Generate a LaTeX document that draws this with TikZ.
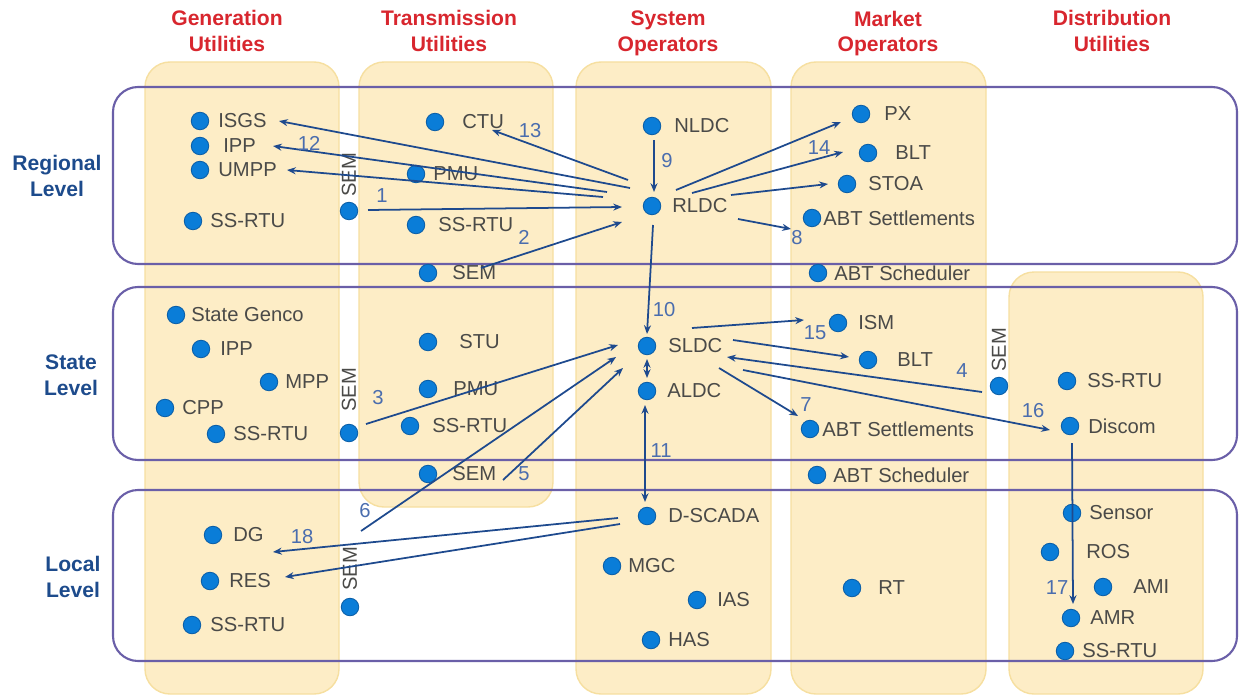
\documentclass[tikz,border=0pt]{standalone}
\usepackage{fontspec}
\setmainfont{Liberation Sans}
\usetikzlibrary{arrows.meta,calc}

\definecolor{colfill}{HTML}{FDEDC6}
\definecolor{coledge}{HTML}{F6DFA0}
\definecolor{lvlline}{HTML}{6A5FA8}
\definecolor{hdred}{HTML}{D8262E}
\definecolor{lvlblue}{HTML}{1D4B8C}
\definecolor{dotblue}{HTML}{0A7DD8}
\definecolor{dotedge}{HTML}{0B5FA8}
\definecolor{txtgray}{HTML}{4A4A48}
\definecolor{arrblue}{HTML}{1E4A8E}
\definecolor{numblue}{HTML}{4A6DAE}

\tikzset{
  colbox/.style={fill=colfill, draw=coledge, line width=0.8pt, rounded corners=0.5cm},
  lvlbox/.style={draw=lvlline, line width=1.2pt, rounded corners=0.5cm},
  hdr/.style={text=hdred, font=\bfseries\fontsize{12}{14.7}\selectfont, align=center},
  lvl/.style={text=lvlblue, font=\bfseries\fontsize{12}{14.7}\selectfont, align=center},
  dot/.style={circle, fill=dotblue, draw=dotedge, line width=0.5pt, inner sep=0, minimum size=0.35cm},
  lbl/.style={anchor=west, inner sep=0, text=txtgray, font=\fontsize{11.5}{13}\selectfont},
  vlbl/.style={inner sep=0, rotate=90, text=txtgray, font=\fontsize{11.5}{13}\selectfont},
  num/.style={inner sep=0, text=numblue, font=\fontsize{11.5}{13}\selectfont},
  arr/.style={draw=arrblue, line width=1pt, -{Stealth[length=5pt,width=4pt]}},
  darr/.style={arr, {Stealth[length=5pt,width=4pt]}-{Stealth[length=5pt,width=4pt]}},
}

% dot with its name to the right
\newcommand{\elem}[4]{%
  \node[dot] (#1) at (#2) {};
  \node[lbl] (#1-t) at ($(#1)+(#3,0)$) {#4};}
% dot with a vertical SEM above it
\newcommand{\vsem}[3]{%
  \node[dot] (#1) at (#2) {};
  \node[vlbl] (#1-t) at ($(#1)+(0,#3)$) {SEM};}

\begin{document}
\begin{tikzpicture}[x=0.02cm, y=-0.02cm]
  \useasboundingbox (0,0) rectangle (1239,696);

  % columns
  \draw[colbox] (145,62) rectangle (339,694);
  \draw[colbox] (359,62) rectangle (553,507);
  \draw[colbox] (576,62) rectangle (771,694);
  \draw[colbox] (791,62) rectangle (986,694);
  \draw[colbox] (1009,272) rectangle (1203,694);

  % levels
  \draw[lvlbox] (113,87) rectangle (1237,264);
  \draw[lvlbox] (113,287) rectangle (1237,460);
  \draw[lvlbox] (113,490) rectangle (1237,661);

  % headings
  \node[hdr] (h-gen) at (227,31) {Generation\\Utilities};
  \node[hdr] (h-tra) at (449,31) {Transmission\\Utilities};
  \node[hdr] (h-sys) at (668,33.5) {System\\Operators};
  \node[hdr] (h-mkt) at (888,33.5) {Market\\Operators};
  \node[hdr] (h-dis) at (1112,31) {Distribution\\Utilities};

  \node[lvl] (l-reg) at (57,176) {Regional\\Level};
  \node[lvl] (l-sta) at (71,375) {State\\Level};
  \node[lvl] (l-loc) at (73,577) {Local\\Level};

  % regional level
  \elem{isgs}{200,121}{18}{ISGS}
  \elem{ippr}{200,146}{23}{IPP}
  \elem{umpp}{200,170}{18}{UMPP}
  \elem{rtugr}{193,221}{17}{SS-RTU}
  \vsem{semgr}{349,211}{-36}
  \elem{ctu}{435,122}{27}{CTU}
  \elem{pmur}{416,174}{17}{PMU}
  \elem{rtutr}{416,225}{22}{SS-RTU}
  \elem{semtr}{428,273}{24}{SEM}
  \elem{nldc}{652,126}{22}{NLDC}
  \elem{rldc}{652,206}{20}{RLDC}
  \elem{px}{861,114}{23}{PX}
  \elem{bltr}{868,153}{27}{BLT}
  \elem{stoa}{847,184}{21}{STOA}
  \elem{abtsr}{812,218}{11}{ABT Settlements}
  \elem{abtcr}{818,273}{16}{ABT Scheduler}

  % state level
  \elem{genco}{176,315}{15}{State Genco}
  \elem{ipps}{201,349}{19}{IPP}
  \elem{mpp}{269,382}{16}{MPP}
  \elem{cpp}{165,408}{17}{CPP}
  \elem{rtugs}{216,434}{17}{SS-RTU}
  \vsem{semgs}{349,433}{-43}
  \elem{stu}{428,342}{31}{STU}
  \elem{pmus}{428,389}{25}{PMU}
  \elem{rtuts}{410,426}{22}{SS-RTU}
  \elem{semts}{428,474}{24}{SEM}
  \elem{sldc}{647,346}{21}{SLDC}
  \elem{aldc}{647,391}{20}{ALDC}
  \elem{ism}{838,323}{20}{ISM}
  \elem{blts}{868,360}{29}{BLT}
  \elem{abtss}{810,429}{12}{ABT Settlements}
  \elem{abtcs}{817,475}{16}{ABT Scheduler}
  \vsem{semms}{999,386}{-36}
  \elem{rtuds}{1067,381}{20}{SS-RTU}
  \elem{discom}{1070,426}{18}{Discom}

  % local level
  \elem{dg}{213,535}{20}{DG}
  \elem{res}{210,581}{19}{RES}
  \elem{rtugl}{192,625}{18}{SS-RTU}
  \vsem{semgl}{350,607}{-38}
  \elem{dscada}{647,516}{21}{D-SCADA}
  \elem{mgc}{612,566}{16}{MGC}
  \elem{ias}{697,600}{20}{IAS}
  \elem{has}{651,640}{17}{HAS}
  \elem{rt}{852,588}{26}{RT}
  \elem{sensor}{1072,513}{17}{Sensor}
  \elem{ros}{1050,552}{36}{ROS}
  \elem{ami}{1103,587}{30}{AMI}
  \elem{amr}{1071,618}{19}{AMR}
  \elem{rtudl}{1065,651}{17}{SS-RTU}

  \coordinate (semgl-up) at ($(semgl)+(11,-76)$);

  % links around RLDC
  \draw[arr] ($(semgr)+(19,-1)$) -- ($(rldc)+(-30,1)$);
  \draw[arr] ($(semtr)+(53,-5)$) -- ($(rldc)+(-30,16)$);
  \draw[arr] ($(nldc)+(2,14)$) -- ($(rldc)+(2,-14)$);
  \draw[arr] ($(rldc)+(-24,-26)$) -- ($(ctu)+(57,8)$);
  \draw[arr] ($(rldc)+(-22,-18)$) -- ($(isgs)+(79,0)$);
  \draw[arr] ($(rldc)+(-45,-14)$) -- ($(ippr)+(73,0)$);
  \draw[arr] ($(rldc)+(-49,-9)$) -- ($(umpp)+(87,0)$);
  \draw[arr] ($(rldc)+(24,-16)$) -- ($(px)+(-20,8)$);
  \draw[arr] ($(rldc)+(40,-13)$) -- ($(bltr)+(-25,-1)$);
  \draw[arr] ($(rldc)+(79,-11)$) -- ($(stoa)+(-19,0)$);
  \draw[arr] ($(rldc)+(86,13)$) -- ($(abtsr)+(-21,11)$);
  \draw[arr] ($(rldc)+(1,19)$) -- ($(sldc)+(0,-12)$);

  % links around SLDC
  \draw[arr] ($(sldc)+(45,-18)$) -- ($(ism)+(-34,-3)$);
  \draw[arr] ($(sldc)+(86,-6)$) -- ($(blts)+(-19,-3)$);
  \draw[arr] ($(semms)+(-17,6)$) -- ($(sldc)+(80,11)$);
  \draw[arr] ($(sldc)+(96,24)$) -- ($(discom)+(-20,4)$);
  \draw[arr] ($(sldc)+(72,22)$) -- ($(abtss)+(-12,-13)$);
  \draw[darr] ($(sldc)+(0,13)$) -- ($(aldc)+(0,-13)$);
  \draw[arr] ($(semgs)+(17,-9)$) -- ($(sldc)+(-29,-1)$);
  \draw[arr] ($(semts)+(75,6)$) -- ($(sldc)+(-24,22)$);
  \draw[arr] (semgl-up) -- ($(sldc)+(-31,11)$);
  \draw[darr] ($(aldc)+(-2,14)$) -- ($(dscada)+(-2,-14)$);

  % local links
  \draw[arr] ($(dscada)+(-29,2)$) -- ($(dg)+(60,17)$);
  \draw[arr] ($(dscada)+(-27,8)$) -- ($(res)+(75,-4)$);
  \draw[arr] ($(discom)+(2,17)$) -- ($(amr)+(2,-14)$);

  % link numbers
  \node[num] (n1) at (382,196) {1};
  \node[num] (n2) at (524,237) {2};
  \node[num] (n3) at (378,398) {3};
  \node[num] (n4) at (962,371) {4};
  \node[num] (n5) at (524,474) {5};
  \node[num] (n6) at (365,511) {6};
  \node[num] (n7) at (806,405) {7};
  \node[num] (n8) at (797,238) {8};
  \node[num] (n9) at (667,161) {9};
  \node[num] (n10) at (664,310) {10};
  \node[num] (n11) at (661,451) {11};
  \node[num] (n12) at (309,143) {12};
  \node[num] (n13) at (530,131) {13};
  \node[num] (n14) at (819,148) {14};
  \node[num] (n15) at (815,333) {15};
  \node[num] (n16) at (1033,411) {16};
  \node[num] (n17) at (1057,588) {17};
  \node[num] (n18) at (302,537) {18};
\end{tikzpicture}
\end{document}
